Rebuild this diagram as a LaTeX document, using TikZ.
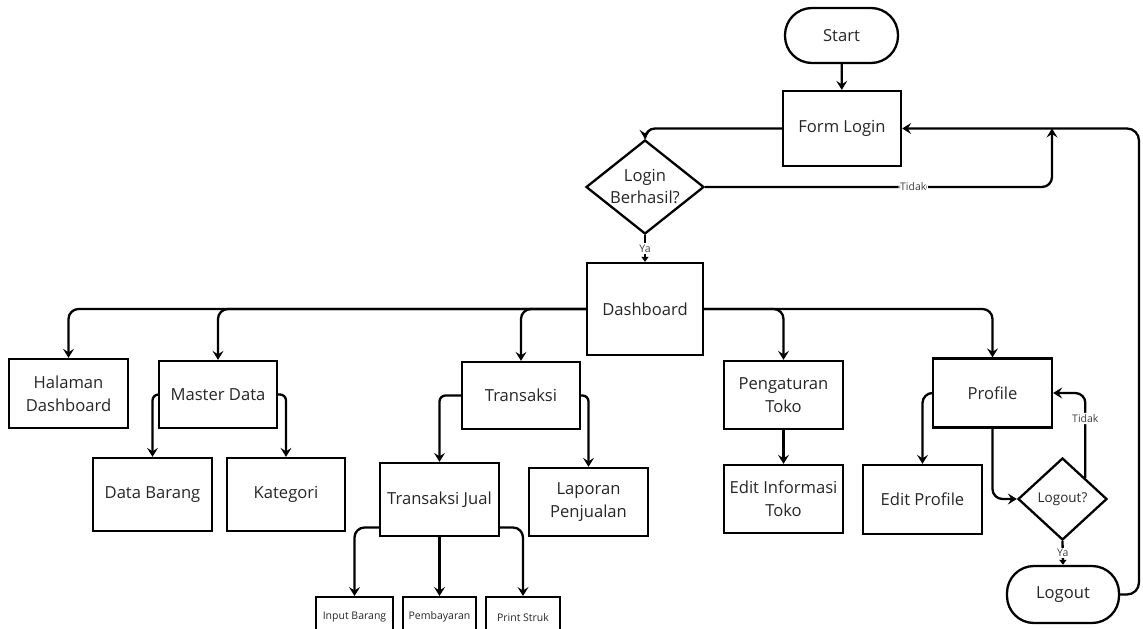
\documentclass[tikz,border=0pt]{standalone}
\usepackage{fontspec}
\setmainfont{Open Sans}
\usetikzlibrary{arrows.meta,shapes.geometric}
\begin{document}
\begin{tikzpicture}[x=1pt,y=-1pt,
  box/.style={draw, line width=2.3pt, rectangle, align=center, inner sep=2pt,
    font=\fontsize{16.6}{23}\selectfont, text=black!85},
  sz/.style 2 args={minimum width=#1pt, minimum height=#2pt},
  pill/.style={box, rounded corners=27pt},
  small/.style={box, font=\fontsize{10.5}{13}\selectfont, anchor=north},
  dia/.style={draw, line width=2.3pt, diamond, inner sep=0pt},
  con/.style={line width=2.3pt, -{Stealth[length=9pt,width=11pt,inset=3.5pt]}, rounded corners=10pt},
  scon/.style={con, rounded corners=6pt},
  yacon/.style={line width=2.3pt, -{Triangle[length=5pt,width=7pt]}},
  lab/.style={fill=white, inner sep=1.5pt, font=\fontsize{10.5}{12}\selectfont, text=black!75}
]
\path[use as bounding box] (0,0) rectangle (1143,629);
\clip (0,0) rectangle (1143,629);

% nodes
\node[pill, sz={113}{55}] (start) at (841.5,35.5) {Start};
\node[box, sz={118}{75}] (fl) at (842,128.5) {Form Login};
\node[dia, minimum width=118pt, minimum height=94pt,
  label={[font=\fontsize{16.6}{22}\selectfont, align=center, text=black!85]center:Login\\Berhasil?}] (login) at (645,187) {};
\node[box, sz={116}{92}] (dash) at (645,309) {Dashboard};

\node[box, sz={119}{69}] (hal) at (68.5,393.5) {Halaman\\Dashboard};
\node[box, sz={118}{67}] (md) at (218,394.5) {Master Data};
\node[box, sz={119}{73}] (db) at (152.5,494.5) {Data Barang};
\node[box, sz={118}{73}] (kat) at (286,494.5) {Kategori};

\node[box, sz={118}{67}] (tr) at (521,395.5) {Transaksi};
\node[box, sz={119}{73}] (tj) at (439.5,499.5) {Transaksi Jual};
\node[box, sz={119}{68}] (lap) at (588.5,502) {Laporan\\Penjualan};
\node[small, sz={77}{40}] (ib) at (354.5,596) {Input Barang};
\node[small, sz={73}{40}] (pb) at (439.5,596) {Pembayaran};
\node[small, sz={74}{40}] (ps) at (523,596) {Print Struk};

\node[box, sz={119}{68}] (pt) at (783.5,395) {Pengaturan\\Toko};
\node[box, sz={119}{68}] (eit) at (783.5,499) {Edit Informasi\\Toko};

\node[box, sz={119}{69}] (prof) at (992.5,393) {Profile};
\node[box, sz={119}{69}] (ep) at (922.5,499.5) {Edit Profile};
\node[dia, minimum width=89pt, minimum height=82pt,
  label={[font=\fontsize{13.5}{15}\selectfont, text=black!85]center:Logout?}] (lo) at (1062.5,499) {};
\node[pill, sz={112}{57}] (logout) at (1063,594.5) {Logout};

\coordinate (j1) at (1052,128.5);
\coordinate (rt) at (1139,128.5);

% connectors
\draw[con] (start) -- (fl);
\draw[con] (fl.west) -| (login.north);
\draw[con] (login.east) -| node[lab, pos=0.3] {Tidak} (j1);
\draw[con, rounded corners=12pt] (logout.east) -| (rt) -- (fl.east);
\draw[yacon] (login.south) -- node[lab] {Ya} (dash.north);

\draw[con] (dash.west) -| (hal.north);
\draw[con] (dash.west) -| (md.north);
\draw[con] (dash.west) -| (tr.north);
\draw[con] (dash.east) -| (pt.north);
\draw[con] (dash.east) -| (prof.north);

\draw[scon] (md.west) -| (db.north);
\draw[scon] (md.east) -| (kat.north);
\draw[scon] (tr.west) -| (tj.north);
\draw[scon] (tr.east) -| (lap.north);
\draw[con] ([yshift=-28pt]tj.west) -| (ib.north);
\draw[con] (tj.south) -- (pb.north);
\draw[con] ([yshift=-28pt]tj.east) -| (ps.north);

\draw[con] (pt.south) -- (eit.north);
\draw[con] (prof.west) -| (ep.north);
\draw[con] (prof.south) |- (lo.west);
\draw[con] (lo.north east) |- node[lab, pos=0.35] {Tidak} (prof.east);
\draw[yacon] (lo.south) -- node[lab] {Ya} (logout.north);
\end{tikzpicture}
\end{document}
